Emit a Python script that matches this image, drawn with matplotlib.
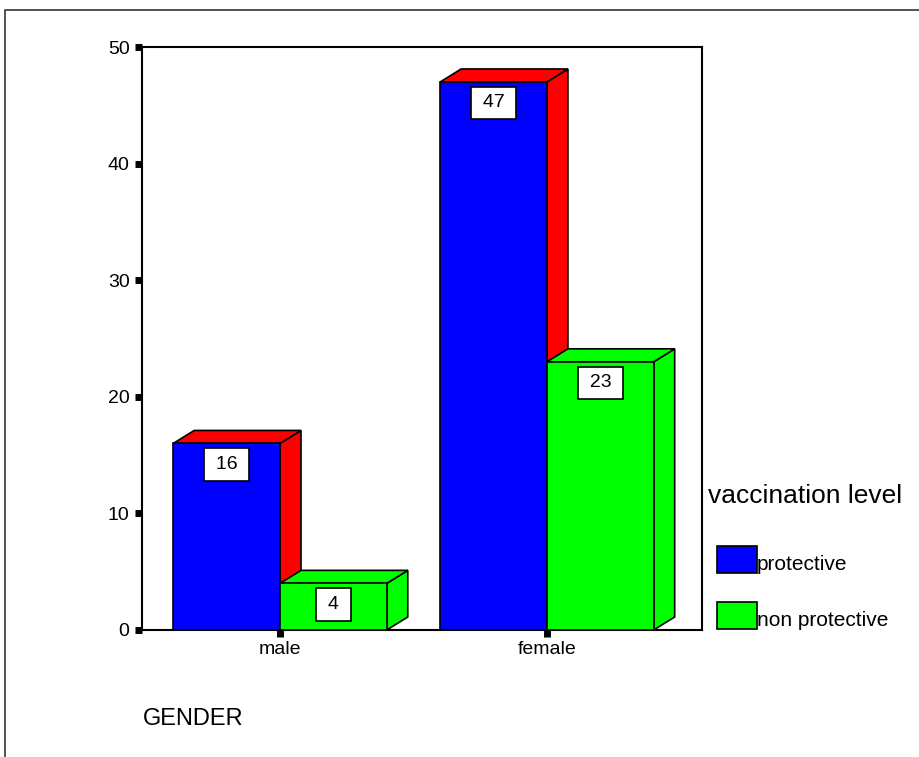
import numpy as np
import matplotlib.pyplot as plt
from matplotlib.patches import Polygon, Rectangle
from matplotlib.lines import Line2D

# Data
genders = ['male', 'female']
levels = ['protective', 'non protective']
protective = [16, 47]
non_protective = [4, 23]
front_colors = ['#0000ff', '#00ff00']
shade_colors = ['#ff0000', '#00ff00']

plt.rcParams['font.family'] = ['Liberation Sans', 'DejaVu Sans']

W, H = 919, 757
fig = plt.figure(figsize=(W / 100, H / 100), dpi=100)


def fx(px):
    return px / W


def fy(py):
    return 1 - py / H


# plot frame in pixel positions
left, right, top, bottom = 142, 702, 47, 630
ax = fig.add_axes([fx(left), fy(bottom), (right - left) / W, (bottom - top) / H])
ax.set_ylim(0, 50)
ax.set_xlim(-0.517, 1.581)

# depth of the 3d boxes, in pixels -> data units
xr = ax.get_xlim()[1] - ax.get_xlim()[0]
dx = 21 * xr / (right - left)
dy = 13 * 50 / (bottom - top)

x = np.arange(len(genders))
width = 0.40
series = [protective, non_protective]
offsets = [-width / 2, width / 2]

for i, vals in enumerate(series):
    z = 2 + i
    bars = ax.bar(x + offsets[i], vals, width, color=front_colors[i],
                  edgecolor='black', linewidth=1.2, zorder=z + 0.2)
    for rect, v in zip(bars, vals):
        x0 = rect.get_x()
        x1 = x0 + rect.get_width()
        h = rect.get_height()
        side = Polygon([(x1, 0), (x1 + dx, dy), (x1 + dx, h + dy), (x1, h)],
                       closed=True, fc=shade_colors[i], ec='black', lw=1.2, zorder=z)
        topf = Polygon([(x0, h), (x1, h), (x1 + dx, h + dy), (x0 + dx, h + dy)],
                       closed=True, fc=shade_colors[i], ec='black', lw=1.2, zorder=z + 0.1)
        ax.add_patch(side)
        ax.add_patch(topf)
        ax.annotate('\u2009' + str(v) + '\u2009', xy=(x0 + rect.get_width() / 2, h),
                    xytext=(0, -9), textcoords='offset points', ha='center', va='top',
                    fontsize=14,
                    bbox=dict(boxstyle='square,pad=0.4', fc='white', ec='black', lw=1.2),
                    zorder=z + 0.5)

ax.set_yticks(range(0, 51, 10))
ax.set_xticks(x)
ax.set_xticklabels(genders)
ax.tick_params(axis='y', direction='out', length=5, width=5, labelsize=14, pad=4)
ax.tick_params(axis='x', direction='out', length=5, width=5, labelsize=14, pad=3)
for s in ax.spines.values():
    s.set_linewidth(1.5)

# outer border
fig.add_artist(Line2D([fx(5), fx(5), 1.0], [0, fy(10), fy(10)],
                      transform=fig.transFigure, color='#444444', lw=1.3))

fig.text(fx(143), fy(725), 'GENDER', fontsize=17, va='baseline')

# legend
fig.text(fx(708), fy(503), 'vaccination level', fontsize=19, va='baseline')
legend_rows = [546, 602]
for name, col, ytop in zip(levels, front_colors, legend_rows):
    fig.add_artist(Rectangle((fx(717), fy(ytop + 27)), 40 / W, 27 / H,
                             transform=fig.transFigure, fc=col, ec='black', lw=1.2))
    fig.text(fx(757), fy(ytop + 24), name, fontsize=15, va='baseline')

fig.savefig('out.png', dpi=100)
